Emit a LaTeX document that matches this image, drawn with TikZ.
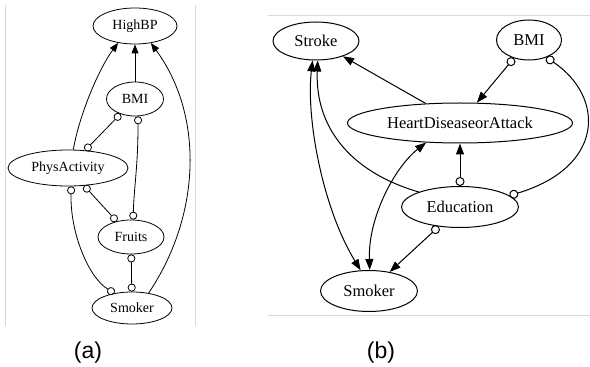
\documentclass[tikz,border=0pt]{standalone}
\usepackage{fontspec}
\setmainfont{Liberation Serif}
\newfontfamily\nodefont{Liberation Serif}
\newfontfamily\labelfont{Liberation Sans}
\usetikzlibrary{arrows.meta,shapes.geometric}
\begin{document}
\begin{tikzpicture}[x=1pt,y=1pt,
  nodeA/.style={ellipse, draw, line width=0.8pt, inner sep=0pt, font=\nodefont\fontsize{14}{16}\selectfont},
  nodeB/.style={ellipse, draw, line width=1pt, inner sep=0pt, font=\nodefont\fontsize{16.5}{19}\selectfont},
  edgeA/.style={line width=0.8pt},
  edgeB/.style={line width=1pt},
  arrA/.style={edgeA, -{Triangle[length=9pt,width=7pt]}},
  ooA/.style={edgeA, {Circle[open,length=8pt]}-{Circle[open,length=8pt]}},
  arrB/.style={edgeB, -{Triangle[length=11pt,width=8pt]}},
  biB/.style={edgeB, {Triangle[length=11pt,width=8pt]}-{Triangle[length=11pt,width=8pt]}},
  oarB/.style={edgeB, {Circle[open,length=9pt]}-{Triangle[length=11pt,width=8pt]}},
  ooB/.style={edgeB, {Circle[open,length=9pt]}-{Circle[open,length=9pt]}},
  frameline/.style={draw=black!15, line width=0.8pt},
  caption/.style={font=\labelfont\fontsize{23}{27}\selectfont, inner sep=0pt}
]
\useasboundingbox (0,0) rectangle (590,367);
% frames
\draw[frameline] (5,362) -- (5,41);
\draw[frameline] (195,362) -- (195,41);
\draw[frameline] (268,352) -- (590,352);
\draw[frameline] (268,52) -- (590,52);

% panel (a)
\node[nodeA, minimum width=84pt, minimum height=36pt] (hb) at (135,341) {HighBP};
\node[nodeA, minimum width=57pt, minimum height=34pt] (bmiA) at (135,268) {BMI};
\node[nodeA, minimum width=120pt, minimum height=36pt] (pa) at (68,199) {PhysActivity};
\node[nodeA, minimum width=66pt, minimum height=34pt] (fr) at (131,130) {Fruits};
\node[nodeA, minimum width=80pt, minimum height=32pt] (smA) at (132,59) {Smoker};

\draw[arrA] (pa.74) .. controls (80,255) and (100,300) .. (hb.225);
\draw[arrA] (bmiA) -- (hb);
\draw[arrA] (smA.42) .. controls (200,150) and (205,250) .. (hb.-47);
\draw[ooA] (bmiA) -- (pa);
\draw[ooA] (bmiA.-80) .. controls (138,200) and (134,180) .. (fr.83);
\draw[ooA] (pa) -- (fr);
\draw[ooA] (pa.-80) .. controls (70,135) and (88,90) .. (smA.140);
\draw[ooA] (fr) -- (smA);

% panel (b)
\node[nodeB, minimum width=86pt, minimum height=38pt] (st) at (316,326) {Stroke};
\node[nodeB, minimum width=65pt, minimum height=40pt] (bmiB) at (529,327) {BMI};
\node[nodeB, minimum width=225pt, minimum height=40pt] (hd) at (460,244) {HeartDiseaseorAttack};
\node[nodeB, minimum width=117pt, minimum height=41pt] (ed) at (460,160) {Education};
\node[nodeB, minimum width=97pt, minimum height=41pt] (smB) at (369,76) {Smoker};

\draw[arrB] (hd) -- (st);
\draw[oarB] (bmiB) -- (hd);
\draw[ooB] (bmiB.-45) .. controls (605,270) and (605,200) .. (ed.13);
\draw[oarB] (ed) -- (hd);
\draw[arrB] (ed.160) .. controls (350,195) and (315,240) .. (st.-85);
\draw[biB] (st.-100) .. controls (306,250) and (322,160) .. (smB.112);
\draw[biB] (hd.210) .. controls (395,200) and (368,150) .. (smB.88);
\draw[oarB] (ed) -- (smB);

% captions
\node[caption] (capa) at (88,14) {(a)};
\node[caption] (capb) at (381,14) {(b)};
\end{tikzpicture}
\end{document}
